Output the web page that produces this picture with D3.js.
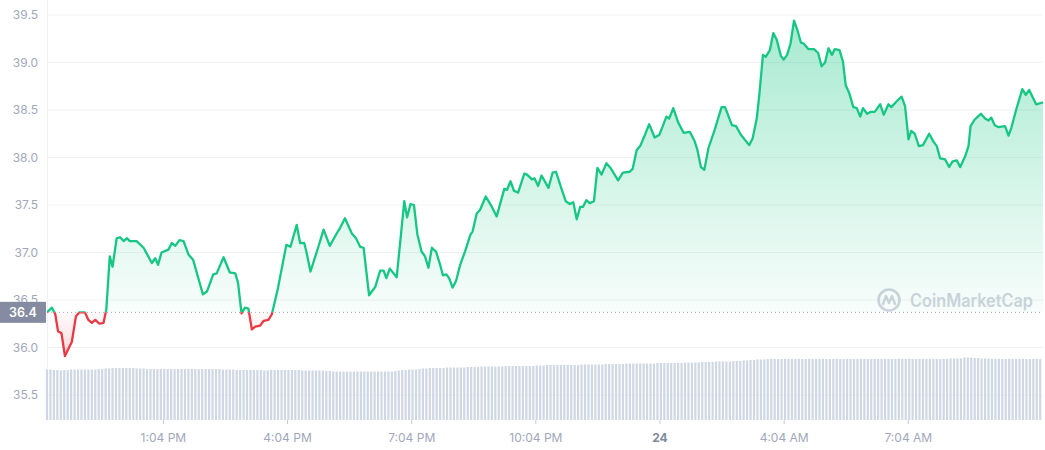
<!DOCTYPE html>
<html><head><meta charset="utf-8">
<script src="https://cdn.jsdelivr.net/npm/d3@7"></script>
<style>
body{margin:0;background:#fff;}
svg{display:block;font-family:Inter,"Noto Sans","DejaVu Sans",sans-serif;}
</style>
</head><body>
<svg id="chart" width="1045" height="450"></svg>
<script>
// ---- data ----
const startTime = "2023-05-23T10:16:00";
const endTime = "2023-05-24T10:20:00";
const openPrice = 36.37;
const openLabel = "36.4";
// minutes after start for each price sample
const minutes = [
0,7,12,16,21,26,36,42,47,55,60,65,70,76,82,86,91,95,101,106,
111,116,120,130,140,152,157,161,166,176,181,186,192,198,205,212,226,232,241,246,
256,265,273,277,282,287,292,297,302,309,314,321,326,335,347,353,362,367,373,376,
382,393,401,410,420,425,432,442,448,454,459,467,476,483,488,492,497,507,518,522,
527,532,537,543,548,553,558,564,570,574,579,583,588,593,599,606,614,617,623,628,
636,645,652,663,667,672,677,683,692,696,703,707,712,717,727,733,738,745,752,758,
763,768,773,777,782,787,793,798,804,811,817,828,835,845,849,855,860,867,873,881,
888,898,902,908,915,923,932,939,943,948,953,959,968,978,983,993,999,1006,1018,1023,
1029,1033,1038,1042,1048,1053,1058,1064,1068,1073,1078,1083,1088,1093,1097,1104,1112,1118,1123,1128,
1133,1138,1142,1149,1154,1158,1163,1169,1174,1179,1183,1189,1194,1200,1208,1213,1220,1224,1233,1239,
1244,1249,1253,1258,1264,1270,1279,1285,1290,1295,1302,1308,1313,1319,1324,1331,1336,1339,1345,1354,
1360,1365,1369,1374,1379,1389,1394,1398,1405,1414,1419,1424,1434,1444
];
const prices = [
36.37,36.42,36.35,36.17,36.15,35.91,36.06,36.33,36.37,36.37,36.29,36.26,36.29,36.25,36.26,36.40,36.96,36.85,37.15,37.16,
37.12,37.15,37.12,37.12,37.05,36.89,36.94,36.87,37.00,37.03,37.10,37.07,37.13,37.12,36.98,36.92,36.56,36.59,36.77,36.78,
36.95,36.79,36.78,36.68,36.36,36.42,36.41,36.19,36.22,36.23,36.28,36.29,36.35,36.63,37.08,37.06,37.29,37.10,37.10,37.01,
36.80,37.05,37.24,37.07,37.20,37.26,37.36,37.20,37.15,37.06,37.05,36.55,36.64,36.81,36.81,36.73,36.83,36.74,37.54,37.37,
37.51,37.50,37.19,37.01,36.96,36.84,37.05,37.01,36.87,36.76,36.77,36.73,36.63,36.70,36.87,37.01,37.19,37.22,37.41,37.45,
37.59,37.48,37.38,37.67,37.66,37.75,37.65,37.63,37.83,37.82,37.77,37.78,37.70,37.81,37.68,37.84,37.85,37.69,37.54,37.51,
37.53,37.35,37.48,37.48,37.55,37.52,37.54,37.89,37.82,37.94,37.89,37.76,37.84,37.85,37.88,38.08,38.12,38.24,38.35,38.21,
38.24,38.43,38.41,38.52,38.37,38.26,38.27,38.17,38.08,37.90,37.87,38.10,38.29,38.53,38.53,38.34,38.33,38.24,38.13,38.20,
38.41,38.68,39.08,39.06,39.13,39.31,39.24,39.07,39.03,39.08,39.20,39.44,39.34,39.21,39.20,39.14,39.14,39.10,38.96,39.00,
39.15,39.08,39.14,39.13,39.01,38.76,38.68,38.53,38.52,38.43,38.52,38.46,38.48,38.48,38.56,38.45,38.56,38.53,38.60,38.64,
38.54,38.19,38.28,38.25,38.12,38.13,38.25,38.17,38.12,37.99,37.98,37.90,37.96,37.97,37.90,38.01,38.12,38.33,38.40,38.46,
38.41,38.39,38.42,38.34,38.32,38.33,38.23,38.31,38.50,38.72,38.66,38.71,38.56,38.58
];
// volume bars, one every 5 minutes from start
const volumeStepMinutes = 5;
const volumes = [
101,101,100,100,99,100,100,101,101,101,101,101,101,101,101,102,102,
103,103,104,104,104,104,104,104,104,103,103,103,
102,102,102,102,102,102,102,102,102,102,102,102,102,102,102,102,102,102,102,102,102,102,101,101,101,101,
100,100,100,100,100,100,100,100,99,99,100,100,100,100,100,100,100,100,100,99,99,99,99,99,99,99,98,98,
97,97,97,97,97,97,97,97,97,97,97,97,97,97,97,97,97,97,98,
99,100,100,101,101,101,102,
103,103,104,104,104,104,104,105,105,105,105,105,105,106,106,106,106,
107,107,107,107,107,107,107,108,108,108,108,108,108,108,108,108,109,
109,109,110,110,110,110,110,110,110,110,110,110,111,111,111,111,111,111,111,112,112,112,112,
112,112,113,113,113,113,113,113,113,113,113,114,114,114,114,114,114,114,114,115,115,115,115,
115,116,116,116,116,117,117,117,117,117,118,118,118,119,119,120,120,121,
121,121,122,122,122,122,122,122,122,122,122,122,122,122,122,122,122,122,122,122,122,122,122,122,122,122,122,122,122,122,
122,122,122,122,122,122,122,122,122,122,122,122,122,122,122,122,122,122,122,122,122,122,122,122,122,123,123,123,123,125,
125,125,124,124,123,123,123,122,122,122,122,122,122,122,122,122,122,122,122,122,122,122
];
const yTicks = [35.5,36.0,36.5,37.0,37.5,38.0,38.5,39.0,39.5];
const xTickTimes = ["2023-05-23T13:04:00","2023-05-23T16:04:00","2023-05-23T19:04:00","2023-05-23T22:04:00","2023-05-24T01:04:00","2023-05-24T04:04:00","2023-05-24T07:04:00"];
const xTickLabels = ["1:04 PM","4:04 PM","7:04 PM","10:04 PM","24","4:04 AM","7:04 AM"];

// ---- chart ----
(function(){
const W = 1045, H = 450;
const mLeft = 47, mRight = 1043, mTop = 15, mBottom = 395, volBottom = 420, volTop = 357.5;
const t0 = new Date(startTime), t1 = new Date(endTime);
const pts = minutes.map((m,i)=>({t:new Date(t0.getTime()+m*60000), v:prices[i]}));
const vols = volumes.map((v,i)=>({t:new Date(t0.getTime()+i*volumeStepMinutes*60000), v}));

const x = d3.scaleTime().domain([t0,t1]).range([mLeft,mRight]);
const y = d3.scaleLinear().domain([35.5,39.5]).range([mBottom,mTop]);
const yv = d3.scaleLinear().domain([0,125]).range([volBottom,volTop]);
const yBase = y(openPrice);

const svg = d3.select("#chart");
const defs = svg.append("defs");

const gG = defs.append("linearGradient").attr("id","gGreen").attr("gradientUnits","userSpaceOnUse")
  .attr("x1",0).attr("x2",0).attr("y1",y(39.5)).attr("y2",yBase);
gG.append("stop").attr("offset","0%").attr("stop-color","#16c784").attr("stop-opacity",0.38);
gG.append("stop").attr("offset","100%").attr("stop-color","#16c784").attr("stop-opacity",0.03);
const gR = defs.append("linearGradient").attr("id","gRed").attr("gradientUnits","userSpaceOnUse")
  .attr("x1",0).attr("x2",0).attr("y1",yBase).attr("y2",y(35.85));
gR.append("stop").attr("offset","0%").attr("stop-color","#ea3943").attr("stop-opacity",0.02);
gR.append("stop").attr("offset","100%").attr("stop-color","#ea3943").attr("stop-opacity",0.22);

defs.append("clipPath").attr("id","clipAbove").append("rect")
  .attr("x",mLeft).attr("y",0).attr("width",mRight-mLeft).attr("height",yBase);
defs.append("clipPath").attr("id","clipBelow").append("rect")
  .attr("x",mLeft).attr("y",yBase).attr("width",mRight-mLeft).attr("height",H-yBase);

// grid
svg.append("g").selectAll("line").data(yTicks).join("line")
  .attr("x1",mLeft).attr("x2",mRight).attr("y1",d=>y(d)).attr("y2",d=>y(d))
  .attr("stroke","#eff2f5").attr("stroke-width",1);
svg.append("line").attr("x1",mLeft+0.5).attr("x2",mLeft+0.5).attr("y1",0).attr("y2",volBottom)
  .attr("stroke","#eff2f5");

// volume bars
svg.append("g").selectAll("rect").data(vols).join("rect")
  .attr("x",d=>x(d.t)-1.1).attr("width",2.2)
  .attr("y",d=>yv(d.v)).attr("height",d=>volBottom-yv(d.v))
  .attr("fill","#cfd6e4");

// watermark
const wm = svg.append("g").attr("transform","translate(889,300)").attr("opacity",0.9);
wm.append("circle").attr("r",10.5).attr("fill","none").attr("stroke","#cbd0da").attr("stroke-width",2.6);
wm.append("path").attr("d","M-6,4 L-3,-4 L0,3 L3,-4 L6,4").attr("fill","none")
  .attr("stroke","#cbd0da").attr("stroke-width",2.4).attr("stroke-linejoin","round").attr("stroke-linecap","round");
wm.append("text").attr("x",21).attr("y",6.5).text("CoinMarketCap")
  .attr("fill","#cbd0da").attr("font-size",18).attr("font-weight",600)
  .attr("textLength",123).attr("lengthAdjust","spacingAndGlyphs");

// areas
const area = d3.area().x(d=>x(d.t)).y0(yBase).y1(d=>y(d.v));
svg.append("path").datum(pts).attr("d",area).attr("fill","url(#gGreen)").attr("clip-path","url(#clipAbove)");
svg.append("path").datum(pts).attr("d",area).attr("fill","url(#gRed)").attr("clip-path","url(#clipBelow)");

// baseline
svg.append("line").attr("x1",mLeft).attr("x2",mRight).attr("y1",yBase).attr("y2",yBase)
  .attr("stroke","#a1a7bb").attr("stroke-width",1).attr("stroke-dasharray","1,3");

// lines
const line = d3.line().x(d=>x(d.t)).y(d=>y(d.v));
svg.append("path").datum(pts).attr("d",line).attr("fill","none").attr("stroke","#16c784")
  .attr("stroke-width",2.3).attr("stroke-linejoin","round").attr("clip-path","url(#clipAbove)");
svg.append("path").datum(pts).attr("d",line).attr("fill","none").attr("stroke","#ea3943")
  .attr("stroke-width",2.3).attr("stroke-linejoin","round").attr("clip-path","url(#clipBelow)");

// y axis
const ya = svg.append("g").attr("transform",`translate(${mLeft},0)`)
  .call(d3.axisLeft(y).tickValues(yTicks).tickSize(0).tickPadding(9).tickFormat(d3.format(".1f")));
ya.select(".domain").remove();
ya.selectAll("text").attr("fill","#a1a7bb").attr("font-size",12).attr("font-family","Inter");

// x axis
const xa = svg.append("g").attr("transform",`translate(0,${volBottom})`)
  .call(d3.axisBottom(x).tickValues(xTickTimes.map(s=>new Date(s))).tickSize(4).tickPadding(9)
    .tickFormat((d,i)=>xTickLabels[i]));
xa.select(".domain").remove();
xa.selectAll("line").attr("stroke","#c5cad6");
xa.selectAll("text").attr("font-size",12).attr("font-family","Inter")
  .attr("font-weight",(d,i)=>xTickLabels[i]==="24"?700:400)
  .attr("fill",(d,i)=>xTickLabels[i]==="24"?"#808a9d":"#a1a7bb");

// open price label
svg.append("rect").attr("x",0).attr("y",yBase-10.5).attr("width",mLeft-1).attr("height",21).attr("fill","#858ca2");
svg.append("text").attr("x",(mLeft-1)/2).attr("y",yBase).attr("dy","0.35em").attr("text-anchor","middle")
  .attr("fill","#fff").attr("font-size",12.5).attr("font-weight",600).text(openLabel);
})();
</script>
</body></html>
